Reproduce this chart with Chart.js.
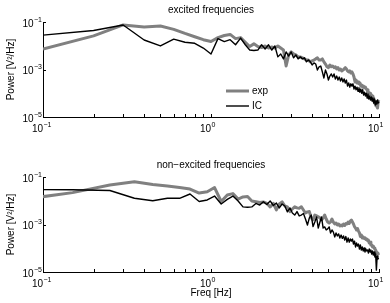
<!DOCTYPE html>
<html>
<head>
<meta charset="utf-8">
<script src="https://cdn.jsdelivr.net/npm/chart.js@4/dist/chart.umd.min.js"></script>
<style>
  html, body { margin: 0; padding: 0; background: #fff; overflow: hidden; }
  #wrap { position: relative; width: 390px; height: 303px; }
  canvas { position: absolute; left: 0; }
  #excited { top: 0; }
  #nonExcited { top: 155px; }
</style>
</head>
<body>
<div id="wrap">
  <canvas id="excited" width="390" height="150"></canvas>
  <canvas id="nonExcited" width="390" height="150"></canvas>
</div>
<script>
// excited frequencies (Hz)
const FREQ_EXC = [
  0.1, 0.2, 0.3, 0.4, 0.5, 0.6, 0.7, 0.8, 0.9, 1.0,
  1.1, 1.2, 1.3, 1.4, 1.5, 1.6, 1.7, 1.8, 1.9, 2.0,
  2.1, 2.2, 2.3, 2.4, 2.5, 2.6, 2.7, 2.8, 2.9, 3.0,
  3.1, 3.2, 3.3, 3.4, 3.5, 3.6, 3.7, 3.8, 3.9, 4.0,
  4.1, 4.2, 4.3, 4.4, 4.5, 4.6, 4.7, 4.8, 4.9, 5.0,
  5.1, 5.2, 5.3, 5.4, 5.5, 5.6, 5.7, 5.8, 5.9, 6.0,
  6.1, 6.2, 6.3, 6.4, 6.5, 6.6, 6.7, 6.8, 6.9, 7.0,
  7.1, 7.2, 7.3, 7.4, 7.5, 7.6, 7.7, 7.8, 7.9, 8.0,
  8.1, 8.2, 8.3, 8.4, 8.5, 8.6, 8.7, 8.8, 8.9, 9.0,
  9.1, 9.2, 9.3, 9.4, 9.5, 9.6, 9.7, 9.8, 9.9, 10.0
];
const EXP_EXC = [
  7.3e-3, 2.6e-2, 7.5e-2, 6.2e-2, 6.8e-2, 4.9e-2, 3.3e-2, 2.4e-2, 1.8e-2, 1.5e-2,
  2.2e-2, 2.7e-2, 3.0e-2, 2.0e-2, 2.2e-2, 1.4e-2, 9.3e-3, 1.2e-2, 9.3e-3, 8.4e-3,
  9.8e-3, 8.0e-3, 8.9e-3, 8.0e-3, 9.8e-3, 8.0e-3, 6.6e-3, 1.4e-3, 4.1e-3, 5.5e-3,
  4.5e-3, 4.1e-3, 3.4e-3, 3.4e-3, 3.1e-3, 2.8e-3, 2.5e-3, 2.5e-3, 2.1e-3, 2.3e-3,
  2.5e-3, 2.8e-3, 3.1e-3, 2.5e-3, 2.5e-3, 2.8e-3, 2.1e-3, 1.7e-3, 1.3e-3, 1.2e-3,
  1.55e-3, 1.3e-3, 1.4e-3, 1.2e-3, 1.3e-3, 1.05e-3, 1.2e-3, 9.5e-4, 1.05e-3, 8.7e-4,
  9.5e-4, 1.05e-3, 1.2e-3, 1.05e-3, 8.7e-4, 7.9e-4, 8.7e-4, 7.1e-4, 7.9e-4, 6.5e-4,
  4.8e-4, 3.0e-4, 3.6e-4, 2.7e-4, 3.0e-4, 2.5e-4, 2.7e-4, 2.0e-4, 2.2e-4, 1.8e-4,
  2.0e-4, 1.7e-4, 1.8e-4, 1.5e-4, 1.4e-4, 1.0e-4, 1.1e-4, 9.3e-5, 1.0e-4, 8.4e-5,
  7.7e-5, 5.2e-5, 6.3e-5, 3.9e-5, 4.7e-5, 2.9e-5, 3.9e-5, 2.4e-5, 4.7e-5, 5.2e-5
];
const IC_EXC = [
  2.8e-2, 4.4e-2, 7.5e-2, 1.75e-2, 9.8e-3, 1.9e-2, 1.4e-2, 1.27e-2, 8.0e-3, 4.5e-3,
  2.0e-2, 1.5e-2, 1.8e-2, 1.1e-2, 2.1e-2, 1.1e-2, 6.6e-3, 6.3e-3, 6.6e-3, 1.1e-2,
  7.3e-3, 1.1e-2, 6.6e-3, 9.8e-3, 3.4e-3, 4.5e-3, 2.8e-3, 5.5e-3, 3.7e-3, 5.5e-3,
  3.1e-3, 4.1e-3, 2.8e-3, 3.4e-3, 2.8e-3, 3.1e-3, 2.1e-3, 2.5e-3, 2.1e-3, 1.55e-3,
  1.9e-3, 1.7e-3, 9.5e-4, 1.3e-3, 1.4e-3, 7.9e-4, 4.4e-4, 9.5e-4, 6.5e-4, 3.6e-4,
  5.3e-4, 6.5e-4, 4.8e-4, 6.5e-4, 4.0e-4, 5.3e-4, 3.6e-4, 4.8e-4, 3.3e-4, 4.4e-4,
  3.0e-4, 4.0e-4, 2.7e-4, 3.6e-4, 2.0e-4, 2.7e-4, 1.8e-4, 2.5e-4, 2.0e-4, 2.5e-4,
  1.5e-4, 2.0e-4, 1.4e-4, 1.8e-4, 1.2e-4, 1.7e-4, 1.1e-4, 1.5e-4, 1.0e-4, 1.4e-4,
  8.4e-5, 1.1e-4, 7.7e-5, 1.0e-4, 6.3e-5, 9.3e-5, 5.7e-5, 7.7e-5, 5.2e-5, 7.0e-5,
  4.7e-5, 6.3e-5, 3.9e-5, 5.7e-5, 3.2e-5, 4.7e-5, 3.5e-5, 5.2e-5, 3.9e-5, 4.3e-5
];

// non-excited frequencies (Hz), first one falls left of the axis
const FREQ_NON = [
  0.05, 0.15, 0.25, 0.35, 0.45, 0.55, 0.65, 0.75, 0.85, 0.95,
  1.05, 1.15, 1.25, 1.35, 1.45, 1.55, 1.65, 1.75, 1.85, 1.95,
  2.05, 2.15, 2.25, 2.35, 2.45, 2.55, 2.65, 2.75, 2.85, 2.95,
  3.05, 3.15, 3.25, 3.35, 3.45, 3.55, 3.65, 3.75, 3.85, 3.95,
  4.05, 4.15, 4.25, 4.35, 4.45, 4.55, 4.65, 4.75, 4.85, 4.95,
  5.05, 5.15, 5.25, 5.35, 5.45, 5.55, 5.65, 5.75, 5.85, 5.95,
  6.05, 6.15, 6.25, 6.35, 6.45, 6.55, 6.65, 6.75, 6.85, 6.95,
  7.05, 7.15, 7.25, 7.35, 7.45, 7.55, 7.65, 7.75, 7.85, 7.95,
  8.05, 8.15, 8.25, 8.35, 8.45, 8.55, 8.65, 8.75, 8.85, 8.95,
  9.05, 9.15, 9.25, 9.35, 9.45, 9.55, 9.65, 9.75, 9.85, 9.95
];
const EXP_NON = [
  7.7e-3, 2.2e-2, 4.6e-2, 6.3e-2, 4.8e-2, 4.2e-2, 3.6e-2, 3.1e-2, 2.1e-2, 2.4e-2,
  3.6e-2, 9.3e-3, 1.75e-2, 2.0e-2, 1.18e-2, 1.44e-2, 1.5e-2, 9.8e-3, 9.1e-3, 8.4e-3,
  8.9e-3, 7.8e-3, 5.5e-3, 7.7e-3, 4.1e-3, 7.3e-3, 8.9e-3, 6.0e-3, 5.5e-3, 3.5e-3,
  4.5e-3, 5.6e-3, 5.0e-3, 4.8e-3, 5.6e-3, 4.1e-3, 3.05e-3, 3.4e-3, 3.5e-3, 1.9e-3,
  1.55e-3, 2.5e-3, 2.3e-3, 2.1e-3, 1.9e-3, 1.55e-3, 1.9e-3, 2.5e-3, 1.7e-3, 1.27e-3,
  1.16e-3, 1.3e-3, 1.7e-3, 1.27e-3, 1.05e-3, 1.16e-3, 9.5e-4, 1.05e-3, 8.7e-4, 9.5e-4,
  8.7e-4, 1.05e-3, 9.1e-4, 1.1e-3, 1.05e-3, 1.27e-3, 1.1e-3, 1.4e-3, 1.55e-3, 1.27e-3,
  1.05e-3, 8.1e-4, 7.1e-4, 5.9e-4, 6.8e-4, 5.3e-4, 4.4e-4, 3.1e-4, 3.6e-4, 2.7e-4,
  3.0e-4, 2.6e-4, 2.8e-4, 2.35e-4, 2.45e-4, 2.1e-4, 2.2e-4, 1.66e-4, 1.83e-4, 1.37e-4,
  1.37e-4, 1.13e-4, 1.24e-4, 1.03e-4, 9.3e-5, 8.4e-5, 7.0e-5, 5.7e-5, 6.3e-5, 5.2e-5
];
const IC_NON = [
  2.98e-2, 2.9e-2, 2.7e-2, 1.27e-2, 1.0e-2, 1.27e-2, 1.27e-2, 1.92e-2, 9.3e-3, 1.08e-2,
  1.58e-2, 7.3e-3, 1.14e-2, 1.58e-2, 9.8e-3, 5.5e-3, 5.3e-3, 5.5e-3, 7.7e-3, 6.6e-3,
  9.1e-3, 7.0e-3, 9.8e-3, 6.3e-3, 8.0e-3, 5.0e-3, 7.3e-3, 6.0e-3, 3.4e-3, 5.0e-3,
  3.05e-3, 2.5e-3, 3.5e-3, 2.3e-3, 2.5e-3, 2.9e-3, 1.7e-3, 9.5e-4, 1.9e-3, 2.5e-3,
  8.2e-4, 1.27e-3, 2.07e-3, 7.1e-4, 1.27e-3, 2.07e-3, 7.1e-4, 7.9e-4, 5.9e-4, 6.5e-4,
  7.9e-4, 4.4e-4, 5.9e-4, 4.8e-4, 3.0e-4, 4.4e-4, 3.3e-4, 4.0e-4, 2.7e-4, 3.6e-4,
  2.6e-4, 3.3e-4, 2.2e-4, 3.1e-4, 1.8e-4, 2.7e-4, 1.8e-4, 2.45e-4, 2.0e-4, 2.45e-4,
  1.5e-4, 2.0e-4, 1.13e-4, 1.66e-4, 1.24e-4, 1.5e-4, 9.3e-5, 1.37e-4, 8.4e-5, 1.13e-4,
  7.7e-5, 1.03e-4, 7.0e-5, 9.3e-5, 7.7e-5, 8.4e-5, 6.3e-5, 9.3e-5, 7.0e-5, 8.4e-5,
  5.7e-5, 7.7e-5, 5.2e-5, 7.0e-5, 4.3e-5, 5.7e-5, 1.2e-5, 4.7e-5, 3.5e-5, 3.9e-5
];

// axis ticks: decade labels are written as 10 with a raised exponent
const X_MAJOR = [0.1, 1, 10];
const X_EXPONENTS = ["−1", "0", "1"];
const X_MINOR = [0.2, 0.3, 0.4, 0.5, 0.6, 0.7, 0.8, 0.9, 2, 3, 4, 5, 6, 7, 8, 9];
const Y_MAJOR = [1e-5, 1e-3, 1e-1];
const Y_EXPONENTS = ["−5", "−3", "−1"];

const FONT = "'Liberation Sans', Arial, sans-serif";
Chart.defaults.font.family = FONT;
Chart.defaults.font.size = 10;
Chart.defaults.color = "#000";

// matlab style ticks pointing into the plot
const inwardTicks = {
  id: "inwardTicks",
  afterDatasetsDraw(chart) {
    const { ctx, chartArea: a, scales: { x, y } } = chart;
    ctx.save();
    ctx.strokeStyle = "#000";
    ctx.lineWidth = 1;
    ctx.beginPath();
    x.ticks.forEach((t) => {
      const px = Math.round(x.getPixelForValue(t.value)) + 0.5;
      ctx.moveTo(px, a.bottom);
      ctx.lineTo(px, a.bottom - 3);
    });
    y.ticks.forEach((t) => {
      const py = Math.round(y.getPixelForValue(t.value)) + 0.5;
      ctx.moveTo(a.left, py);
      ctx.lineTo(a.left + 3, py);
    });
    ctx.stroke();
    ctx.restore();
  },
};

function drawPower(ctx, exponent, xBaseEnd, yBase) {
  ctx.textAlign = "right";
  ctx.font = `10px ${FONT}`;
  ctx.fillText("10", xBaseEnd, yBase);
  ctx.textAlign = "left";
  ctx.font = `7px ${FONT}`;
  ctx.fillText(exponent, xBaseEnd + 0.5, yBase - 5);
}

const powerLabels = {
  id: "powerLabels",
  afterDraw(chart) {
    const { ctx, chartArea: a, scales: { x, y } } = chart;
    ctx.save();
    ctx.fillStyle = "#000";
    ctx.textBaseline = "alphabetic";
    X_MAJOR.forEach((v, i) => {
      drawPower(ctx, X_EXPONENTS[i], x.getPixelForValue(v), a.bottom + 15);
    });
    ctx.font = `7px ${FONT}`;
    Y_MAJOR.forEach((v, i) => {
      ctx.font = `7px ${FONT}`;
      const w = ctx.measureText(Y_EXPONENTS[i]).width;
      drawPower(ctx, Y_EXPONENTS[i], a.left - 1.5 - w, y.getPixelForValue(v) + 4.5);
    });
    ctx.restore();
  },
};

const lineLegend = {
  id: "lineLegend",
  afterDraw(chart, args, opts) {
    if (!opts.display) return;
    const { ctx, chartArea: a } = chart;
    const x0 = a.left + 183;
    const y0 = a.top + 69;
    chart.data.datasets.forEach((ds, i) => {
      const yy = y0 + i * 15;
      ctx.save();
      ctx.strokeStyle = ds.borderColor;
      ctx.lineWidth = ds.borderWidth;
      ctx.beginPath();
      ctx.moveTo(x0, yy);
      ctx.lineTo(x0 + 23, yy);
      ctx.stroke();
      ctx.fillStyle = "#000";
      ctx.font = `10px ${FONT}`;
      ctx.textBaseline = "middle";
      ctx.fillText(ds.label, x0 + 26, yy);
      ctx.restore();
    });
  },
};

function makeChart(id, title, freqs, expVals, icVals, showLegend, showXTitle) {
  return new Chart(document.getElementById(id), {
    type: "line",
    data: {
      datasets: [
        { label: "exp", data: freqs.map((f, i) => ({ x: f, y: expVals[i] })),
          borderColor: "#808080", borderWidth: 3, order: 1,
          clip: { left: 0, top: 4, right: 4, bottom: 4 } },
        { label: "IC", data: freqs.map((f, i) => ({ x: f, y: icVals[i] })),
          borderColor: "#000000", borderWidth: 1.4, order: 0,
          clip: { left: 0, top: 4, right: 4, bottom: 4 } },
      ],
    },
    options: {
      responsive: false, animation: false, devicePixelRatio: 1,
      layout: { padding: { left: 0, right: 11, top: 0, bottom: 0 } },
      elements: { point: { radius: 0 }, line: { tension: 0, borderJoinStyle: "round" } },
      plugins: {
        legend: { display: false },
        tooltip: { enabled: false },
        title: { display: true, text: title, fullSize: false, color: "#000",
          font: { size: 10, weight: "normal" }, padding: { top: 4, bottom: 6 } },
        lineLegend: { display: showLegend },
      },
      scales: {
        x: {
          type: "logarithmic", min: 0.1, max: 10,
          afterBuildTicks: (s) => { s.ticks = X_MAJOR.concat(X_MINOR).sort((a, b) => a - b).map((v) => ({ value: v })); },
          afterFit: (s) => { s.height = 33; s.paddingLeft = 0; s.paddingRight = 0; },
          ticks: { display: false },
          grid: { display: false, drawTicks: false },
          border: { display: true, color: "#000", width: 1 },
          title: { display: showXTitle, text: "Freq [Hz]", font: { size: 10 }, padding: { top: 0, bottom: 6 } },
        },
        y: {
          type: "logarithmic", min: 1e-5, max: 1e-1,
          afterBuildTicks: (s) => { s.ticks = Y_MAJOR.map((v) => ({ value: v })); },
          afterFit: (s) => { s.width = 43; s.paddingTop = 0; s.paddingBottom = 0; },
          ticks: { display: false },
          grid: { display: false, drawTicks: false },
          border: { display: true, color: "#000", width: 1 },
          title: { display: true, text: "Power [V²/Hz]", font: { size: 10 }, padding: { top: 5, bottom: 0 } },
        },
      },
    },
    plugins: [inwardTicks, powerLabels, lineLegend],
  });
}

makeChart("excited", "excited frequencies", FREQ_EXC, EXP_EXC, IC_EXC, true, false);
makeChart("nonExcited", "non−excited frequencies", FREQ_NON, EXP_NON, IC_NON, false, true);
</script>
</body>
</html>
